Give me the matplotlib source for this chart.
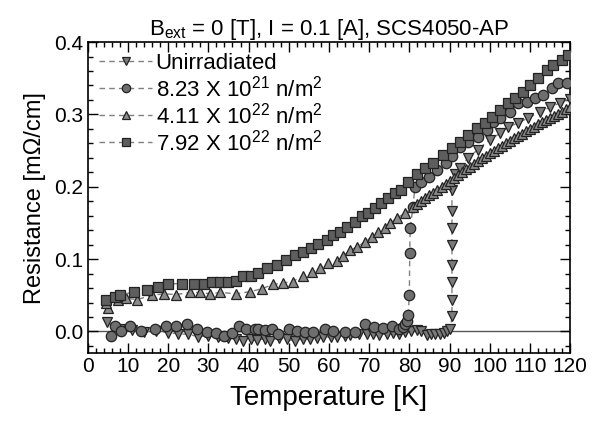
import matplotlib
matplotlib.use('Agg')
import matplotlib.pyplot as plt
from matplotlib.ticker import MultipleLocator, FormatStrFormatter

plt.rcParams['font.family'] = ['Liberation Sans', 'DejaVu Sans']
plt.rcParams['mathtext.fontset'] = 'custom'
plt.rcParams['mathtext.rm'] = 'Liberation Sans'
plt.rcParams['mathtext.it'] = 'Liberation Sans'

# unirradiated (down triangles)
t_unirr = [4.7, 8, 11, 14, 17, 20, 22.4, 25, 27.4, 30, 32.4, 35, 37, 38.6, 40.5,
           42, 44, 45.3, 47.5, 49.5, 51.5, 53.5, 55.3, 57, 58.5, 60.5, 62, 64, 65.2,
           67.5, 69.4, 71, 72.5, 74.4, 76, 77.5, 79, 80.5, 82, 83, 84.3, 85.5, 86.5,
           87.6, 88.5, 89.4, 90.2, 90.6, 90.6, 90.6, 90.6, 90.6, 90.6, 90.6, 90.6,
           91.4, 92.6, 94.6, 97, 100, 102.6, 104.6, 107, 109.5, 112.5, 115, 117.5, 120]
r_unirr = [0.013, 0.004, 0.002, -0.001, 0.001, -0.002, -0.003, -0.004, -0.007, -0.006,
           -0.008, -0.009, -0.010, -0.013, -0.011, -0.012, -0.010, -0.013, -0.009, -0.011,
           -0.013, -0.010, -0.011, -0.009, -0.007, -0.008, -0.007, -0.006, -0.005, -0.004,
           -0.004, -0.003, -0.005, -0.003, -0.002, -0.003, -0.001, 0.000, 0.002, 0.001,
           -0.005, -0.003, -0.004, -0.003, -0.002, 0.000, 0.003, 0.021, 0.044, 0.068,
           0.092, 0.120, 0.143, 0.166, 0.196, 0.217, 0.226, 0.240, 0.251, 0.265, 0.274,
           0.283, 0.288, 0.295, 0.303, 0.310, 0.316, 0.322]

# 8.23e21 (circles)
t_c1 = [5.8, 6.7, 8.2, 10.5, 13.2, 16.7, 19.5, 22, 24.6, 27.2, 29.7, 31.9, 34, 35.9,
        37.6, 39.3, 41.5, 42.3, 44, 45.8, 47.3, 50, 52, 54, 56, 59, 61, 64, 66.5,
        69, 71.2, 73.4, 75.6, 77.4, 78.5, 79, 79.3, 79.7, 80, 80.1, 80.2, 80.9, 81.4,
        83, 85, 87, 89, 90.6, 92.6, 94.6, 97, 99.2, 100.8, 102.6, 105, 107, 109.3,
        111.3, 113.3, 115.5, 117, 119.2]
r_c1 = [-0.006, 0.007, 0.001, 0.007, 0.000, 0.003, 0.007, 0.007, 0.010, 0.003, -0.001,
        -0.002, -0.006, -0.002, 0.007, 0.004, 0.004, 0.003, 0.002, 0.003, -0.004, 0.003,
        0.000, -0.001, -0.001, 0.004, 0.001, -0.001, -0.001, 0.010, 0.006, 0.005, 0.007,
        0.003, 0.006, 0.010, 0.014, 0.023, 0.050, 0.108, 0.143, 0.172, 0.200, 0.207,
        0.214, 0.223, 0.233, 0.242, 0.255, 0.262, 0.269, 0.279, 0.290, 0.295, 0.303,
        0.316, 0.317, 0.323, 0.327, 0.337, 0.343, 0.343]

# 4.11e22 (up triangles)
t_c2 = [5, 4.5, 7.5, 9.5, 12.2, 16, 19, 22, 25.4, 28, 30.5, 33, 36.8, 40.3, 43.3, 46,
        48.6, 51, 53.5, 55.7, 57.7, 59.7, 62, 63.5, 65.2, 67, 69, 70.7, 72.2, 74, 75.2,
        77, 79, 81, 82, 83, 84, 85, 86, 87, 88, 89, 90, 91, 92, 93, 94, 95, 96, 97, 98,
        99, 100, 101, 102, 103, 104, 105, 106, 107, 108, 109, 110, 111, 112, 113, 114,
        115, 116, 117, 118, 119, 120]
r_c2 = [0.033, 0.040, 0.044, 0.046, 0.044, 0.050, 0.052, 0.051, 0.054, 0.054, 0.052,
        0.054, 0.052, 0.055, 0.059, 0.065, 0.067, 0.069, 0.077, 0.082, 0.088, 0.095,
        0.098, 0.104, 0.112, 0.117, 0.124, 0.131, 0.138, 0.143, 0.150, 0.157, 0.164,
        0.172, 0.176, 0.180, 0.184, 0.188, 0.192, 0.196, 0.200, 0.204, 0.208, 0.212,
        0.216, 0.220, 0.224, 0.228, 0.232, 0.236, 0.240, 0.243, 0.247, 0.250, 0.253,
        0.257, 0.260, 0.263, 0.267, 0.270, 0.273, 0.277, 0.280, 0.283, 0.287, 0.290,
        0.292, 0.295, 0.298, 0.301, 0.304, 0.307, 0.310]

# 7.92e22 (squares)
t_c3 = [4.5, 6.7, 8, 11.5, 14.7, 17.4, 20, 23.4, 26.4, 28.9, 31, 33, 35, 36.9, 38.6,
        40.5, 42.3, 44.5, 47, 49.3, 51.5, 53.5, 55.6, 57.3, 59.5, 61, 62.7, 64.4, 66.5,
        68.2, 69.8, 71.5, 73, 74.7, 76.5, 78, 79.7, 81.9, 84, 86, 88.4, 90.6, 92.6,
        94.6, 96.8, 98.8, 100.5, 102.6, 104.6, 106.3, 108.3, 110, 112, 114.2, 115.8,
        118, 119.5]
r_c3 = [0.044, 0.048, 0.051, 0.054, 0.057, 0.062, 0.066, 0.066, 0.066, 0.065, 0.069,
        0.069, 0.069, 0.070, 0.076, 0.077, 0.081, 0.088, 0.092, 0.099, 0.106, 0.110,
        0.116, 0.121, 0.127, 0.134, 0.138, 0.145, 0.152, 0.159, 0.164, 0.171, 0.178,
        0.185, 0.192, 0.196, 0.206, 0.217, 0.226, 0.233, 0.244, 0.254, 0.262, 0.272,
        0.281, 0.288, 0.297, 0.306, 0.316, 0.323, 0.331, 0.341, 0.350, 0.361, 0.368,
        0.375, 0.382]

labels = ['Unirradiated',
          r'8.23 X 10$^{21}$ n/m$^{2}$',
          r'4.11 X 10$^{22}$ n/m$^{2}$',
          r'7.92 X 10$^{22}$ n/m$^{2}$']

fig = plt.figure(figsize=(5.97, 4.25), dpi=100)
ax = fig.add_axes([0.147, 0.169, 0.808, 0.732])

ax.axhline(0, color='#555555', lw=1.0, zorder=1)

series = [
    (t_unirr, r_unirr, 'v', '#7a7a7a'),
    (t_c1, r_c1, 'o', '#6e6e6e'),
    (t_c2, r_c2, '^', '#8a8a8a'),
    (t_c3, r_c3, 's', '#5e5e5e'),
]
for (t, r, m, fc), lab in zip(series, labels):
    ax.plot(t, r, linestyle='--', color='#808080', lw=1.0, dashes=(4, 3),
            marker=m, markersize=7.5, markerfacecolor=fc, markeredgecolor='#222222',
            markeredgewidth=0.9, label=lab, zorder=3)

ax.set_xlim(0, 120)
ax.set_ylim(-0.03, 0.4)
ax.xaxis.set_major_locator(MultipleLocator(10))
ax.xaxis.set_minor_locator(MultipleLocator(2))
ax.yaxis.set_major_locator(MultipleLocator(0.1))
ax.yaxis.set_minor_locator(MultipleLocator(0.02))
ax.yaxis.set_major_formatter(FormatStrFormatter('%.1f'))
ax.tick_params(which='both', direction='in', top=True, right=True, labelsize=15, pad=3)
ax.tick_params(which='major', length=7, width=1)
ax.tick_params(which='minor', length=3.5, width=1)
for s in ax.spines.values():
    s.set_linewidth(1.2)

ax.set_xlabel('Temperature [K]', fontsize=20, labelpad=6)
ax.set_ylabel('Resistance [m\u03a9/cm]', fontsize=17, labelpad=6)
ax.set_title(r'B$_{\mathrm{ext}}$ = 0 [T], I = 0.1 [A], SCS4050-AP', fontsize=16, pad=3)

ax.legend(loc='upper left', frameon=False, fontsize=16, handlelength=2.4,
          handletextpad=0.15, labelspacing=0.05, borderaxespad=0.3,
          borderpad=0.2, markerscale=0.8)

fig.savefig('out.png', dpi=100)
